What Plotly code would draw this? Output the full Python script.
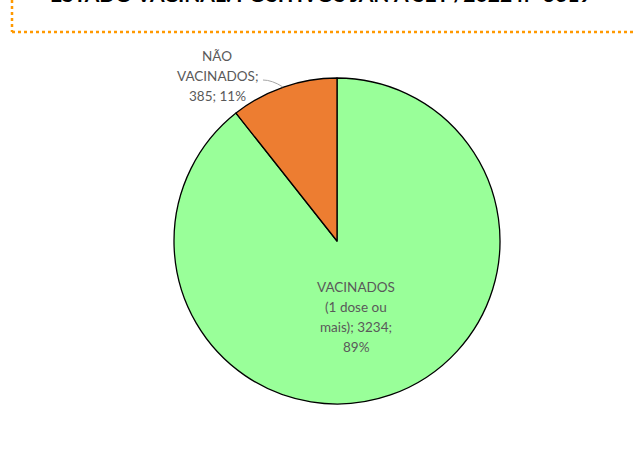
import plotly.graph_objects as go

labels = ["VACINADOS (1 dose ou mais)", "NÃO VACINADOS"]
values = [3234, 385]
colors = ["#99FF99", "#ED7D31"]
title_text = "ESTADO VACINAL: POSITIVOS JAN A SET /2022 n° 3619"

W, H = 635, 450
total = sum(values)
pcts = [round(v / total * 100) for v in values]

def px(x):
    return x / W

def py(y):
    return 1 - y / H

cx, cy, r = 337, 241, 163

fig = go.Figure(go.Pie(
    labels=labels, values=values, sort=False, direction="clockwise",
    rotation=0, textinfo="none", hoverinfo="label+value+percent",
    marker=dict(colors=colors, line=dict(color="black", width=1.3)),
    domain=dict(x=[px(cx - r), px(cx + r)], y=[py(cy + r), py(cy - r)]),
    showlegend=False,
))

font_lbl = dict(family="Lato, Open Sans, sans-serif", size=13.5, color="#595959")

lines_out = ["NÃO", "VACINADOS;", "%d; %d%%" % (values[1], pcts[1])]
lines_in = ["VACINADOS", "(1 dose ou", "mais); %d;" % values[0], "%d%%" % pcts[0]]

annotations = []
for i, t in enumerate(lines_out):
    annotations.append(dict(text=t, x=px(217), y=py(56 + 20 * i), xref="paper", yref="paper",
                            showarrow=False, font=font_lbl, xanchor="center", yanchor="middle"))
for i, t in enumerate(lines_in):
    annotations.append(dict(text=t, x=px(356), y=py(287 + 20 * i), xref="paper", yref="paper",
                            showarrow=False, font=font_lbl, xanchor="center", yanchor="middle"))
annotations.append(dict(text="<b>" + title_text + "</b>", x=px(321), y=py(-6), xref="paper", yref="paper",
                        showarrow=False, font=dict(family="Lato, Open Sans, sans-serif", size=21, color="black"),
                        xanchor="center", yanchor="middle"))

shapes = [
    dict(type="line", xref="paper", yref="paper", x0=px(12), x1=px(12), y0=py(0), y1=py(32),
         line=dict(color="#FF9900", width=2.5, dash="dot")),
    dict(type="line", xref="paper", yref="paper", x0=px(12), x1=px(635), y0=py(32), y1=py(32),
         line=dict(color="#FF9900", width=2.5, dash="dot")),
    dict(type="path", xref="paper", yref="paper",
         path="M %f %f Q %f %f %f %f" % (px(263), py(80), px(272), py(80), px(283), py(87)),
         line=dict(color="#A6A6A6", width=1)),
]

fig.update_layout(
    width=W, height=H, margin=dict(l=0, r=0, t=0, b=0),
    paper_bgcolor="white", plot_bgcolor="white",
    annotations=annotations, shapes=shapes,
)

fig.write_html("out.html", config={"displayModeBar": False},
               post_script="document.body.style.margin='0';document.body.style.overflow='hidden';")
